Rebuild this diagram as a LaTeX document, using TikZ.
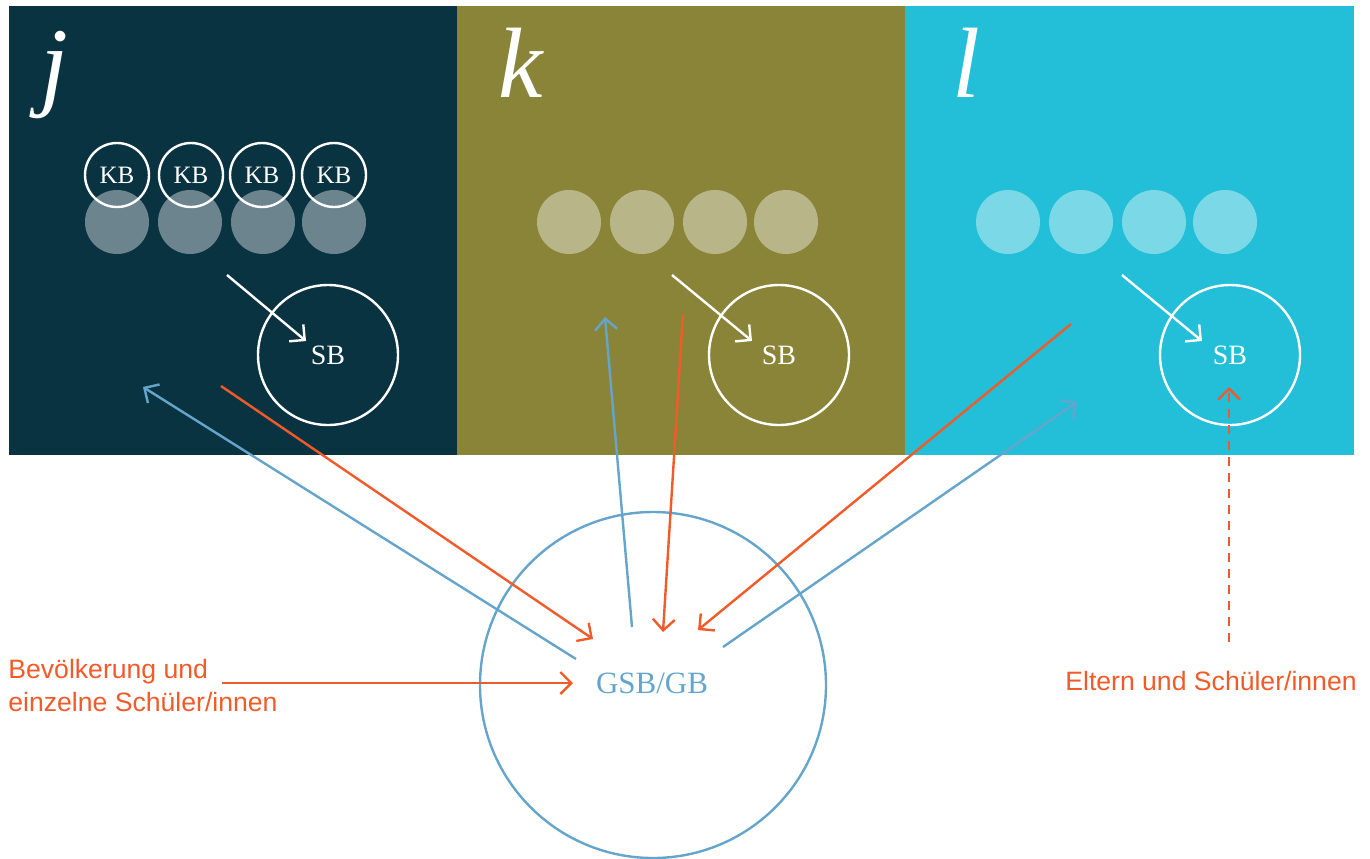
\documentclass[tikz,border=0pt]{standalone}
\usepackage{fontspec}
\setmainfont{Liberation Serif}
\newfontfamily\labelfont{Liberation Sans}
\usetikzlibrary{arrows.meta}
\definecolor{cj}{HTML}{0A3342}
\definecolor{ck}{HTML}{8A8439}
\definecolor{cl}{HTML}{23BED7}
\definecolor{corange}{HTML}{F15A29}
\definecolor{cblue}{HTML}{65A5CC}
\tikzset{
  lightdot/.style={circle, fill=white, fill opacity=0.4, minimum size=32pt, inner sep=0pt},
  kbnode/.style={circle, draw=white, line width=1.2pt, minimum size=32pt, inner sep=0pt, text=white, font=\fontsize{12.5}{14}\selectfont},
  sbnode/.style={circle, draw=white, line width=1.2pt, minimum size=70pt, inner sep=0pt, text=white, font=\fontsize{14}{16}\selectfont},
  letter/.style={anchor=base west, inner sep=0pt, text=white, font=\fontsize{50}{56}\selectfont\itshape},
  barb/.style={-{Straight Barb[length=5.5pt,width=11pt,line width=1.2pt]}},
  warr/.style={barb, draw=white, line width=1.2pt},
  oarr/.style={barb, draw=corange, line width=1.2pt},
  barr/.style={barb, draw=cblue, line width=1.2pt},
  olabel/.style={inner sep=0pt, text=corange, font=\labelfont\fontsize{13.3}{16.5}\selectfont}
}
\begin{document}
\begin{tikzpicture}[x=0.5pt,y=-0.5pt]
\useasboundingbox (0,0) rectangle (1370,858);
% panels
\fill[cj] (9,6) rectangle (457,455);
\fill[ck] (457,6) rectangle (905,455);
\fill[cl] (905,6) rectangle (1354,455);
% letters
\node[letter] (lj) at (40,97) {j};
\node[letter] (lk) at (498,97) {k};
\node[letter] (ll) at (952,97) {l};
% light dots
\foreach \x/\n in {117/1,190/2,263/3,334/4} \node[lightdot] (dj\n) at (\x,222) {};
\foreach \x/\n in {569/1,642/2,715/3,786/4} \node[lightdot] (dk\n) at (\x,222) {};
\foreach \x/\n in {1008/1,1081/2,1154/3,1225/4} \node[lightdot] (dl\n) at (\x,222) {};
% KB circles
\foreach \x/\n in {117/1,191/2,262/3,334/4} \node[kbnode] (kb\n) at (\x,175) {KB};
% SB circles
\node[sbnode] (sbj) at (328,355) {SB};
\node[sbnode] (sbk) at (779,355) {SB};
\node[sbnode] (sbl) at (1230,355) {SB};
% white arrows
\coordinate (wj0) at (227,275); \coordinate (wj1) at (306,341);
\coordinate (wk0) at (672,275); \coordinate (wk1) at (752,341);
\coordinate (wl0) at (1122,275); \coordinate (wl1) at (1202,341);
\draw[warr] (wj0) -- (wj1);
\draw[warr] (wk0) -- (wk1);
\draw[warr] (wl0) -- (wl1);
% GSB circle
\node[circle, draw=cblue, line width=1.2pt, minimum size=173pt, inner sep=0pt] (gsb) at (653,685) {};
\node[inner sep=0pt, text=cblue, font=\fontsize{15.5}{18}\selectfont] (gsbt) at (652,683) {GSB/GB};
% blue arrows (GSB -> panels)
\coordinate (bj0) at (576,659); \coordinate (bj1) at (143,387);
\coordinate (bk0) at (632,627); \coordinate (bk1) at (605,317);
\coordinate (bl0) at (723,647); \coordinate (bl1) at (1077,402);
\draw[barr] (bj0) -- (bj1);
\draw[barr] (bk0) -- (bk1);
\draw[barr] (bl0) -- (bl1);
% orange arrows (panels -> GSB)
\coordinate (oj0) at (221,386); \coordinate (oj1) at (593,639);
\coordinate (ok0) at (683,314); \coordinate (ok1) at (663,632);
\coordinate (ol0) at (1071,324); \coordinate (ol1) at (698,630);
\draw[oarr] (oj0) -- (oj1);
\draw[oarr] (ok0) -- (ok1);
\draw[oarr] (ol0) -- (ol1);
% left label and arrow
\node[olabel, anchor=west, align=left] (lab1) at (8,685) {Bevölkerung und\\einzelne Schüler/innen};
\coordinate (oa0) at (222,683); \coordinate (oa1) at (573,683);
\draw[oarr] (oa0) -- (oa1);
% right label and dashed arrow
\node[olabel] (lab2) at (1211,681) {Eltern und Schüler/innen};
\coordinate (od0) at (1229,642); \coordinate (od1) at (1229,387);
\draw[oarr, dash pattern=on 4.5pt off 3.5pt] (od0) -- (od1);
\end{tikzpicture}
\end{document}
